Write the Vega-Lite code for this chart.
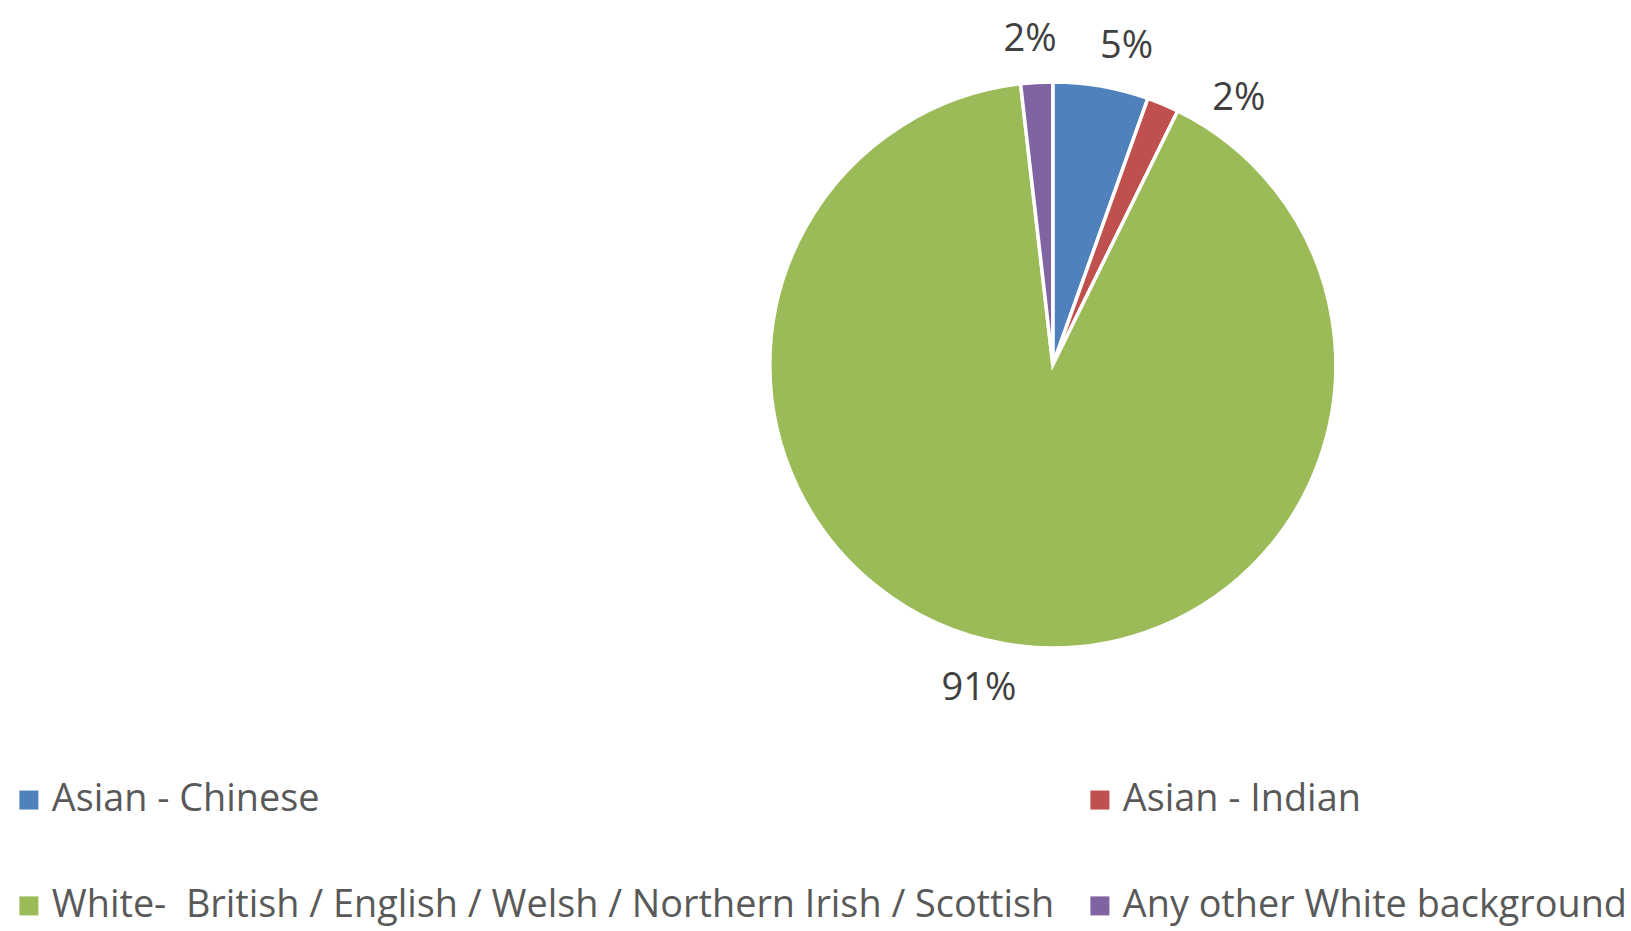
{
  "$schema": "https://vega.github.io/schema/vega-lite/v6.json",
  "width": 1631,
  "height": 931,
  "padding": 0,
  "autosize": {"type": "none"},
  "background": "white",
  "config": {"view": {"stroke": null}},
  "data": {
    "values": [
      {"group": "Asian - Chinese", "count": 3, "rank": 1, "label": "5%"},
      {"group": "Asian - Indian", "count": 1, "rank": 2, "label": "2%"},
      {"group": "White-\u00a0 British / English / Welsh / Northern Irish / Scottish", "count": 50, "rank": 3, "label": "91%"},
      {"group": "Any other White background", "count": 1, "rank": 4, "label": "2%"}
    ]
  },
  "transform": [
    {"stack": "count", "groupby": [], "sort": [{"field": "rank", "order": "ascending"}], "as": ["t0", "t1"]},
    {"calculate": "(datum.t0 + datum.t1) / 2", "as": "tmid"}
  ],
  "layer": [
    {
      "mark": {"type": "arc", "outerRadius": 283, "stroke": "white", "strokeWidth": 3.5, "x": {"expr": "width*0.6455"}, "y": {"expr": "height*0.392"}},
      "encoding": {
        "theta": {"field": "t0", "type": "quantitative", "scale": {"domain": [0, 55]}},
        "theta2": {"field": "t1"},
        "color": {
          "field": "group",
          "type": "nominal",
          "scale": {
            "domain": ["Asian - Chinese", "Asian - Indian", "White-\u00a0 British / English / Welsh / Northern Irish / Scottish", "Any other White background"],
            "range": ["#4F81BD", "#C0504D", "#9BBB59", "#8064A2"]
          },
          "legend": {
            "title": null,
            "orient": "none",
            "legendX": 10,
            "legendY": 781,
            "columns": 2,
            "direction": "horizontal",
            "symbolType": "square",
            "symbolSize": 361,
            "symbolStrokeWidth": 0,
            "labelFont": "Open Sans",
            "labelFontSize": 37.8,
            "labelColor": "#595959",
            "labelOffset": 4,
            "labelLimit": 0,
            "rowPadding": 67,
            "columnPadding": 26
          }
        }
      }
    },
    {
      "transform": [{"filter": "datum.rank == 1 || datum.rank == 3"}],
      "mark": {"type": "text", "radius": 329, "thetaOffset": 0.055, "dy": 3, "font": "Open Sans", "fontSize": 38, "color": "#404040", "align": "center", "baseline": "middle", "x": {"expr": "width*0.6455"}, "y": {"expr": "height*0.392"}},
      "encoding": {
        "theta": {"field": "tmid", "type": "quantitative", "scale": {"domain": [0, 55]}},
        "text": {"field": "label", "type": "nominal"}
      }
    },
    {
      "transform": [{"filter": "datum.rank == 2"}],
      "mark": {"type": "text", "radius": 327, "thetaOffset": 0.205, "dy": 3, "font": "Open Sans", "fontSize": 38, "color": "#404040", "align": "center", "baseline": "middle", "x": {"expr": "width*0.6455"}, "y": {"expr": "height*0.392"}},
      "encoding": {
        "theta": {"field": "tmid", "type": "quantitative", "scale": {"domain": [0, 55]}},
        "text": {"field": "label", "type": "nominal"}
      }
    },
    {
      "transform": [{"filter": "datum.rank == 4"}],
      "mark": {"type": "text", "radius": 329, "thetaOffset": -0.012, "dy": 3, "font": "Open Sans", "fontSize": 38, "color": "#404040", "align": "center", "baseline": "middle", "x": {"expr": "width*0.6455"}, "y": {"expr": "height*0.392"}},
      "encoding": {
        "theta": {"field": "tmid", "type": "quantitative", "scale": {"domain": [0, 55]}},
        "text": {"field": "label", "type": "nominal"}
      }
    }
  ]
}
